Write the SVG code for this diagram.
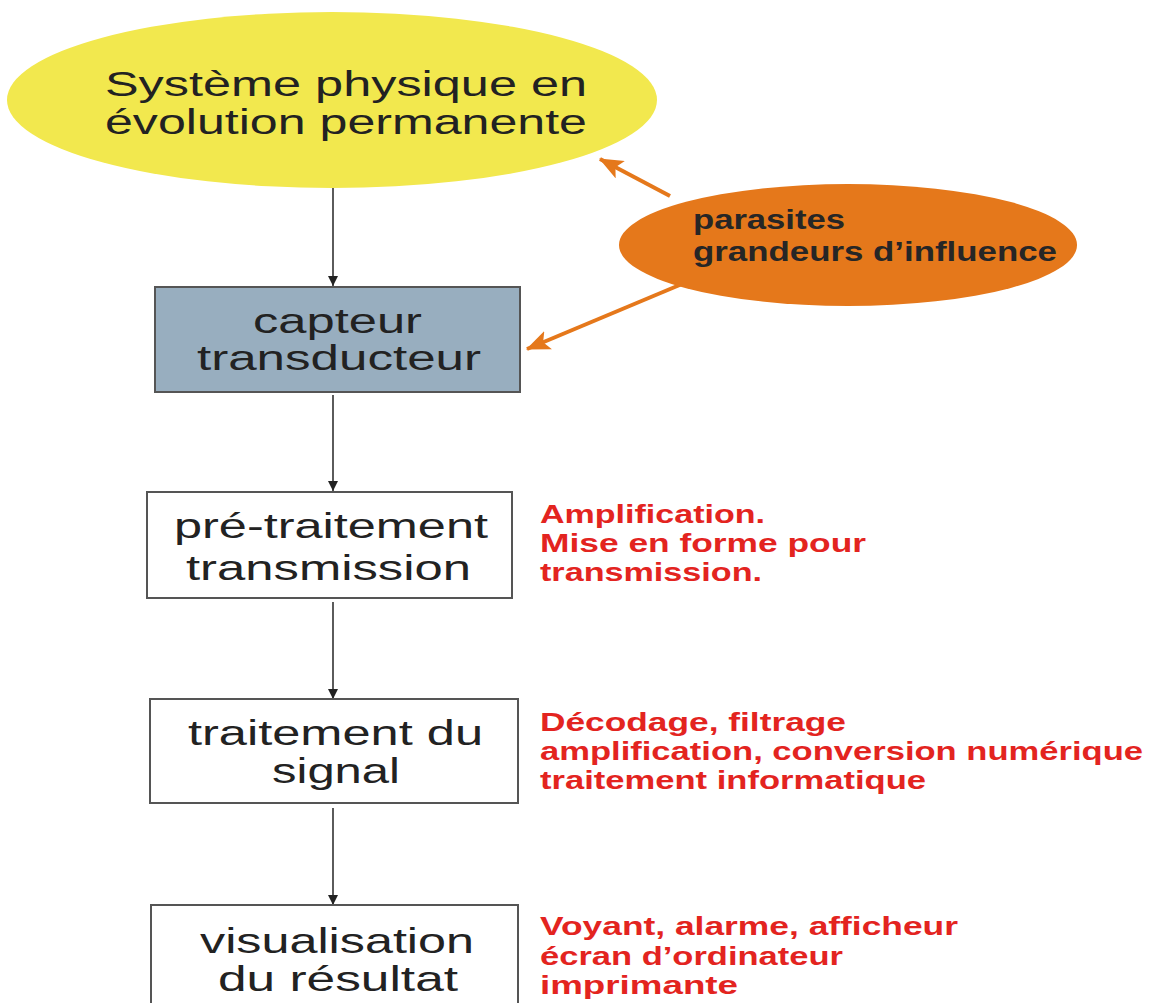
<svg xmlns="http://www.w3.org/2000/svg" width="1161" height="1003" viewBox="0 0 1161 1003">
<defs>
<marker id="ah" viewBox="0 0 10 10" refX="10" refY="5" markerWidth="10" markerHeight="11" markerUnits="userSpaceOnUse" orient="auto">
<path d="M0,0 L10,5 L0,10 Z" fill="#222"/>
</marker>
<marker id="oh" viewBox="0 0 22 18" refX="21" refY="9" markerWidth="24" markerHeight="20" markerUnits="userSpaceOnUse" orient="auto">
<path d="M0,0 L22,9 L0,18 L5,9 Z" fill="#E5781B"/>
</marker>
<style>
.t{font-family:"Liberation Sans",Arial,sans-serif;font-size:35px;fill:#222}
.p{font-family:"Liberation Sans",Arial,sans-serif;font-size:27px;font-weight:bold;fill:#262626}
.r{font-family:"Liberation Sans",Arial,sans-serif;font-size:26px;font-weight:bold;fill:#E3241F}
.box{stroke:#555;stroke-width:2;fill:#fff}
.c{stroke:#333;stroke-width:1.6;fill:none}
.o{stroke:#E5781B;stroke-width:4;fill:none}
</style>
</defs>
<rect width="1161" height="1003" fill="#fff"/>
<g id="connectors">
<line class="c" x1="333" y1="188" x2="333" y2="286" marker-end="url(#ah)"/>
<line class="c" x1="333" y1="395" x2="333" y2="491" marker-end="url(#ah)"/>
<line class="c" x1="333" y1="602" x2="333" y2="699" marker-end="url(#ah)"/>
<line class="c" x1="333" y1="808" x2="333" y2="905" marker-end="url(#ah)"/>
<line class="o" x1="670" y1="196" x2="600" y2="159" marker-end="url(#oh)"/>
<line class="o" x1="682" y1="284" x2="527" y2="349" marker-end="url(#oh)"/>
</g>
<g id="systeme">
<ellipse cx="332" cy="100" rx="325" ry="88" fill="#F2E84E"/>
<text class="t" x="105" y="96" textLength="482" lengthAdjust="spacingAndGlyphs">Système physique en</text>
<text class="t" x="105" y="134" textLength="482" lengthAdjust="spacingAndGlyphs">évolution permanente</text>
</g>
<g id="parasites">
<ellipse cx="848" cy="245" rx="229" ry="61" fill="#E5781B"/>
<text class="p" x="693" y="229" textLength="152" lengthAdjust="spacingAndGlyphs">parasites</text>
<text class="p" x="693" y="261" textLength="364" lengthAdjust="spacingAndGlyphs">grandeurs d’influence</text>
</g>
<g id="capteur">
<rect x="155" y="287" width="365" height="105" fill="#98AEBF" stroke="#555" stroke-width="2"/>
<text class="t" x="253" y="333" textLength="169" lengthAdjust="spacingAndGlyphs">capteur</text>
<text class="t" x="197" y="370" textLength="284" lengthAdjust="spacingAndGlyphs">transducteur</text>
</g>
<g id="pretraitement">
<rect class="box" x="147" y="492" width="365" height="106"/>
<text class="t" x="174" y="538" textLength="314" lengthAdjust="spacingAndGlyphs">pré-traitement</text>
<text class="t" x="186" y="580" textLength="285" lengthAdjust="spacingAndGlyphs">transmission</text>
<text class="r" x="540" y="523" textLength="225" lengthAdjust="spacingAndGlyphs">Amplification.</text>
<text class="r" x="540" y="552" textLength="326" lengthAdjust="spacingAndGlyphs">Mise en forme pour</text>
<text class="r" x="540" y="581" textLength="222" lengthAdjust="spacingAndGlyphs">transmission.</text>
</g>
<g id="traitement">
<rect class="box" x="150" y="699" width="368" height="104"/>
<text class="t" x="188" y="745" textLength="295" lengthAdjust="spacingAndGlyphs">traitement du</text>
<text class="t" x="272" y="783" textLength="128" lengthAdjust="spacingAndGlyphs">signal</text>
<text class="r" x="540" y="731" textLength="306" lengthAdjust="spacingAndGlyphs">Décodage, filtrage</text>
<text class="r" x="540" y="760" textLength="603" lengthAdjust="spacingAndGlyphs">amplification, conversion numérique</text>
<text class="r" x="540" y="789" textLength="386" lengthAdjust="spacingAndGlyphs">traitement informatique</text>
</g>
<g id="visualisation">
<rect class="box" x="151" y="905" width="367" height="110"/>
<text class="t" x="200" y="953" textLength="274" lengthAdjust="spacingAndGlyphs">visualisation</text>
<text class="t" x="218" y="991" textLength="240" lengthAdjust="spacingAndGlyphs">du résultat</text>
<text class="r" x="540" y="935" textLength="418" lengthAdjust="spacingAndGlyphs">Voyant, alarme, afficheur</text>
<text class="r" x="540" y="965" textLength="303" lengthAdjust="spacingAndGlyphs">écran d’ordinateur</text>
<text class="r" x="540" y="994" textLength="198" lengthAdjust="spacingAndGlyphs">imprimante</text>
</g>
</svg>
